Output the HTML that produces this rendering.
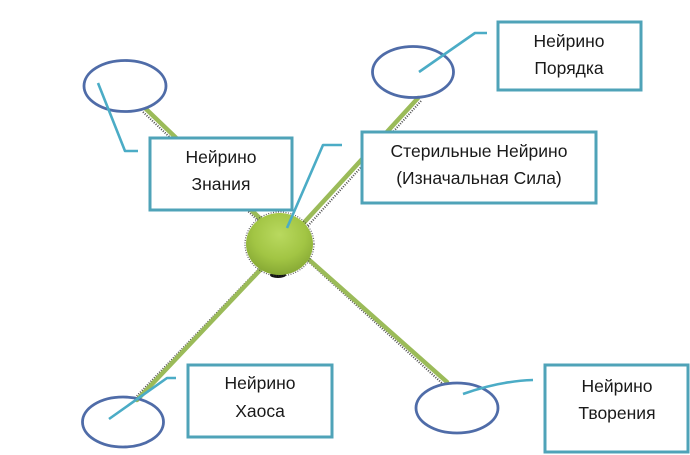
<!DOCTYPE html>
<html>
<head>
<meta charset="utf-8">
<style>
html,body{margin:0;padding:0;background:#fff;}
svg{display:block;}
text{font-family:"Liberation Sans","DejaVu Sans",sans-serif;font-size:17.5px;fill:#1a1a1a;text-anchor:middle;}
</style>
</head>
<body>
<svg width="690" height="455" viewBox="0 0 690 455" xmlns="http://www.w3.org/2000/svg">
<defs>
<radialGradient id="g" cx="50%" cy="35%" r="65%">
<stop offset="0" stop-color="#b9d95f"/>
<stop offset="0.6" stop-color="#a2c544"/>
<stop offset="1" stop-color="#86a834"/>
</radialGradient>
</defs>
<!-- green connector shadows (dotted) -->
<g stroke="#222" stroke-width="2" stroke-dasharray="1 1.5" fill="none" opacity="0.8">
<line x1="143" y1="112" x2="268" y2="230"/>
<line x1="421" y1="101" x2="306" y2="228"/>
<line x1="257" y1="271" x2="134" y2="399"/>
<line x1="308" y1="261" x2="444" y2="385"/>
</g>
<!-- green connectors -->
<g stroke="#9bbb59" stroke-width="4.5" fill="none" stroke-linecap="round">
<line x1="146" y1="109" x2="270" y2="228"/>
<line x1="418" y1="98" x2="300" y2="227"/>
<line x1="262" y1="268" x2="137" y2="400"/>
<line x1="306" y1="257" x2="447" y2="382"/>
</g>
<!-- ellipses -->
<g stroke="#4f6ca8" stroke-width="2.8" fill="none">
<ellipse cx="125" cy="86" rx="41" ry="25.5"/>
<ellipse cx="413" cy="72" rx="40.5" ry="25.5"/>
<ellipse cx="123" cy="422" rx="40.5" ry="25"/>
<ellipse cx="457" cy="408" rx="41" ry="25"/>
</g>
<!-- boxes -->
<g stroke="#4fa3b8" stroke-width="3" fill="#fff">
<rect x="150" y="138" width="142" height="72"/>
<rect x="498" y="22" width="143" height="68"/>
<rect x="362" y="132" width="234" height="71"/>
<rect x="188" y="365" width="144" height="72"/>
<rect x="545" y="365" width="143" height="87"/>
</g>
<!-- central circle -->
<ellipse cx="278" cy="275" rx="8" ry="3" fill="#111"/>
<ellipse cx="279.5" cy="244" rx="34.5" ry="32" fill="none" stroke="#333" stroke-width="1.2" stroke-dasharray="1 1.5" opacity="0.8"/>
<ellipse cx="279.5" cy="244" rx="33.5" ry="31" fill="url(#g)"/>
<!-- callout lines -->
<g stroke="#4bacc6" stroke-width="2.6" fill="none" stroke-linejoin="round" stroke-linecap="butt">
<polyline points="98,83 125,151 138,151"/>
<polyline points="419,72 475,33 487,33"/>
<polyline points="287,228 323,145 342,145"/>
<polyline points="109,419 167,378 176,378"/>
<path d="M463,394 Q500,381 533,380"/>
</g>
<!-- labels -->
<text x="221" y="163">Нейрино</text>
<text x="221" y="190">Знания</text>
<text x="569" y="47">Нейрино</text>
<text x="569" y="74">Порядка</text>
<text x="479" y="157">Стерильные Нейрино</text>
<text x="479" y="184">(Изначальная Сила)</text>
<text x="260" y="389">Нейрино</text>
<text x="260" y="417">Хаоса</text>
<text x="617" y="392">Нейрино</text>
<text x="617" y="419">Творения</text>
</svg>
</body>
</html>
